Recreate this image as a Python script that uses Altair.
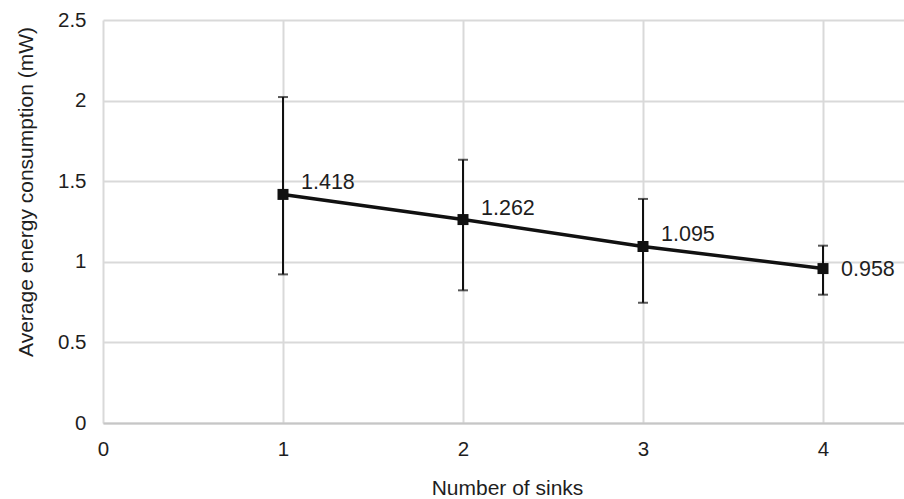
import altair as alt
import pandas as pd

sinks = [1, 2, 3, 4]
energy = [1.418, 1.262, 1.095, 0.958]
err_low = [0.922, 0.823, 0.746, 0.796]
err_high = [2.022, 1.633, 1.390, 1.100]
labels = ["1.418", "1.262", "1.095", "0.958"]

df = pd.DataFrame({"sinks": sinks, "energy": energy, "lo": err_low, "hi": err_high, "label": labels})

FONT = "Liberation Sans"
TXT = "#1e1e1e"
FS = 20.5
FT = 21
FD = 21.5

x = alt.X("sinks:Q",
          scale=alt.Scale(domain=[0, 4.45], nice=False, zero=False),
          axis=alt.Axis(values=[0, 1, 2, 3, 4], format="d", title="Number of sinks",
                        grid=True, gridColor="#d9d9d9", gridWidth=2,
                        domain=True, domainColor="#c6c6c6", domainWidth=2,
                        ticks=False, labelPadding=16, labelFontSize=FS, labelFont=FONT,
                        labelFlush=False, labelOverlap=False,
                        labelColor=TXT, titleFontSize=FT, titleFont=FONT, titleColor=TXT,
                        titleFontWeight="normal", titleX=404, titleY=71,
                        titleBaseline="alphabetic"))
y = alt.Y("energy:Q",
          scale=alt.Scale(domain=[0, 2.5], nice=False),
          axis=alt.Axis(values=[0, 0.5, 1, 1.5, 2, 2.5], format="~g",
                        title="Average energy consumption (mW)",
                        grid=True, gridColor="#d9d9d9", gridWidth=2, domain=False,
                        ticks=False, labelPadding=17, labelFontSize=FS, labelFont=FONT,
                        labelFlush=False, labelOverlap=False,
                        labelColor=TXT, titleFontSize=FT, titleFont=FONT, titleColor=TXT,
                        titleFontWeight="normal", titleX=-71, titleY=171.5,
                        titleBaseline="alphabetic", titleAngle=-90))

base = alt.Chart(df)

line = base.mark_line(color="#111111", strokeWidth=3.5).encode(x=x, y=y)
bars = base.mark_rule(color="#111111", strokeWidth=2).encode(x="sinks:Q", y="lo:Q", y2="hi:Q")
cap_lo = base.mark_tick(color="#111111", size=10, thickness=2, orient="horizontal").encode(x="sinks:Q", y="lo:Q")
cap_hi = base.mark_tick(color="#111111", size=10, thickness=2, orient="horizontal").encode(x="sinks:Q", y="hi:Q")
pts = base.mark_square(color="#111111", size=121, opacity=1).encode(x="sinks:Q", y="energy:Q")
txt_a = base.transform_filter(alt.datum.sinks < 4).mark_text(
    align="left", baseline="alphabetic", dx=18, dy=-5, fontSize=FD, font=FONT, color=TXT
).encode(x="sinks:Q", y="energy:Q", text="label:N")
txt_b = base.transform_filter(alt.datum.sinks == 4).mark_text(
    align="left", baseline="middle", dx=18, dy=1, fontSize=FD, font=FONT, color=TXT
).encode(x="sinks:Q", y="energy:Q", text="label:N")

chart = alt.layer(line, bars, cap_lo, cap_hi, pts, txt_a, txt_b).properties(
    width=801, height=403,
    autosize=alt.AutoSizeParams(type="none"),
    padding={"left": 103, "top": 20, "right": 0, "bottom": 76},
    background="white",
).configure_view(stroke=None)

chart.save("out.html", embed_options={"renderer": "svg", "actions": False})
